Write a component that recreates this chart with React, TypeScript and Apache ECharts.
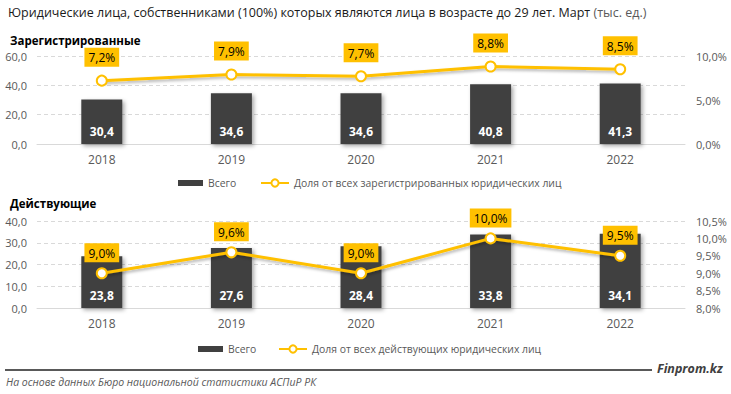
import React, { useEffect, useRef } from "react";
import * as echarts from "echarts";

const years = ["2018", "2019", "2020", "2021", "2022"];
const regTotal = [30.4, 34.6, 34.6, 40.8, 41.3];
const regShare = [7.2, 7.9, 7.7, 8.8, 8.5];
const actTotal = [23.8, 27.6, 28.4, 33.8, 34.1];
const actShare = [9.0, 9.6, 9.0, 10.0, 9.5];

const FONT = "'Open Sans', 'Noto Sans', sans-serif";
const YELLOW = "#FFC000";
const DARK = "#404040";
const GREY = "#595959";

const fmt1 = (v: number) => v.toFixed(1).replace(".", ",");

export default function App() {
  const ref = useRef<HTMLDivElement>(null);
  useEffect(() => {
    if (!ref.current) return;
    const chart = echarts.init(ref.current, undefined, { renderer: "svg" });
    const axisLabel = { color: GREY, fontSize: 11, fontFamily: FONT };
    const splitLine = { show: true, lineStyle: { color: "#D9D9D9", type: [4, 3] as any, width: 1 } };
    const legendText = { color: GREY, fontSize: 10.4, fontFamily: FONT };
    const barSeries = (data: number[], xi: number) => ({
      type: "bar",
      name: "Всего",
      xAxisIndex: xi,
      yAxisIndex: xi * 2,
      data,
      barWidth: 41,
      itemStyle: {
        color: DARK,
        shadowColor: "rgba(0,0,0,0.35)",
        shadowBlur: 4,
        shadowOffsetX: 2,
        shadowOffsetY: 2,
      },
      label: {
        show: true,
        position: "insideBottom",
        distance: 7,
        color: "#fff",
        fontWeight: "bold",
        fontSize: 12,
        fontFamily: FONT,
        formatter: (p: any) => fmt1(p.value),
      },
      z: 2,
    });
    const lineSeries = (data: number[], xi: number, name: string, dist: number) => ({
      type: "line",
      name,
      xAxisIndex: xi,
      yAxisIndex: xi * 2 + 1,
      data,
      symbol: "circle",
      symbolSize: 10,
      lineStyle: {
        color: YELLOW,
        width: 3,
        shadowColor: "rgba(0,0,0,0.3)",
        shadowBlur: 3,
        shadowOffsetX: 1,
        shadowOffsetY: 2,
      },
      itemStyle: { color: "#fff", borderColor: YELLOW, borderWidth: 2 },
      label: {
        show: true,
        position: "top",
        distance: dist,
        color: "#000",
        fontSize: 12,
        fontFamily: FONT,
        backgroundColor: YELLOW,
        padding: [4, 4, 3, 4],
        formatter: (p: any) => fmt1(p.value) + "%",
      },
      z: 3,
    });
    chart.setOption({
      animation: false,
      grid: [
        { left: 37, right: 46, top: 56, height: 88 },
        { left: 37, right: 46, top: 221, height: 87 },
      ],
      xAxis: [0, 1].map((i) => ({
        type: "category",
        gridIndex: i,
        data: years,
        axisLine: { lineStyle: { color: "#D9D9D9" } },
        axisTick: { show: false },
        axisLabel: { ...axisLabel, fontSize: 12, margin: 9 },
      })),
      yAxis: [
        { type: "value", gridIndex: 0, min: 0, max: 60, interval: 20, axisLabel: { ...axisLabel, margin: 10, formatter: fmt1 }, splitLine },
        { type: "value", gridIndex: 0, min: 0, max: 10, interval: 5, position: "right", axisLabel: { ...axisLabel, margin: 11, formatter: (v: number) => fmt1(v) + "%" }, splitLine: { show: false } },
        { type: "value", gridIndex: 1, min: 0, max: 40, interval: 10, axisLabel: { ...axisLabel, margin: 10, formatter: fmt1 }, splitLine },
        { type: "value", gridIndex: 1, min: 8, max: 10.5, interval: 0.5, position: "right", axisLabel: { ...axisLabel, margin: 11, formatter: (v: number) => fmt1(v) + "%" }, splitLine: { show: false } },
      ],
      legend: [
        { data: [{ name: "Всего", icon: "rect" }], left: 178, top: 178, padding: 0, itemWidth: 25, itemHeight: 6, itemGap: 4, textStyle: legendText, selectedMode: false },
        { data: ["Доля от всех зарегистрированных юридических лиц"], left: 260, top: 178, padding: 0, itemWidth: 28, itemHeight: 9, itemGap: 2, textStyle: legendText, selectedMode: false },
        { data: [{ name: "Всего", icon: "rect" }], left: 198, top: 344, padding: 0, itemWidth: 25, itemHeight: 6, textStyle: legendText, selectedMode: false },
        { data: ["Доля от всех действующих юридических лиц"], left: 278, top: 344, padding: 0, itemWidth: 28, itemHeight: 9, textStyle: legendText, selectedMode: false },
      ],
      series: [
        barSeries(regTotal, 0),
        lineSeries(regShare, 0, "Доля от всех зарегистрированных юридических лиц", 8),
        barSeries(actTotal, 1),
        lineSeries(actShare, 1, "Доля от всех действующих юридических лиц", 5),
      ],
      graphic: [
        {
          type: "text",
          left: 8,
          top: 6,
          style: {
            text: "{a|Юридические лица, собственниками (100%) которых являются лица в возрасте до 29 лет. Март} {b|(тыс. ед.)}",
            rich: {
              a: { fontSize: 12.5, fontFamily: FONT, fill: "#1a1a1a" },
              b: { fontSize: 12.5, fontFamily: FONT, fill: GREY },
            },
          },
        },
        { type: "text", left: 10, top: 34, style: { text: "Зарегистрированные", fontSize: 11.5, fontWeight: "bold", fontFamily: FONT, fill: "#000" } },
        { type: "text", left: 10, top: 197, style: { text: "Действующие", fontSize: 11.5, fontWeight: "bold", fontFamily: FONT, fill: "#000" } },
        { type: "line", shape: { x1: 5, y1: 370, x2: 652, y2: 370 }, style: { stroke: GREY, lineWidth: 2 } },
        { type: "text", left: 657, top: 362, style: { text: "Finprom.kz", fontSize: 12.5, fontWeight: "bold", fontStyle: "italic", fontFamily: FONT, fill: "#404040" } },
        { type: "text", left: 6, top: 376, style: { text: "На основе данных Бюро национальной статистики АСПиР РК", fontSize: 10.5, fontStyle: "italic", fontFamily: FONT, fill: GREY } },
      ],
    });
    return () => chart.dispose();
  }, []);
  return <div ref={ref} style={{ width: 731, height: 394, position: "absolute", left: 0, top: 0 }} />;
}
